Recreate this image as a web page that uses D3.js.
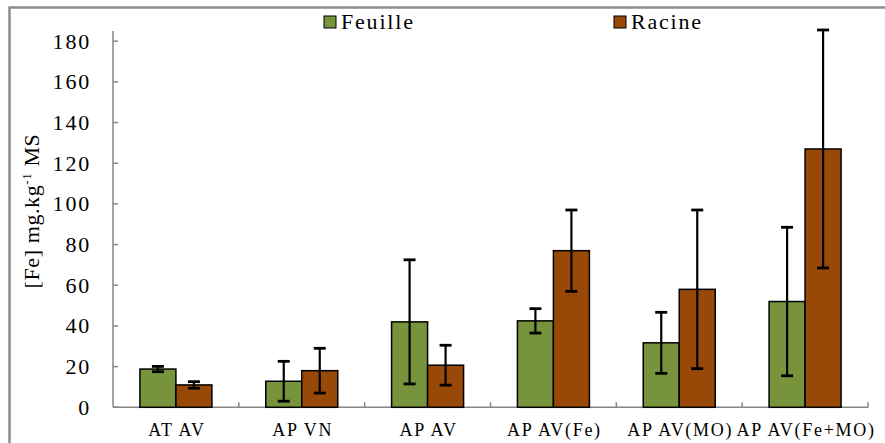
<!DOCTYPE html>
<html><head><meta charset="utf-8">
<script src="https://cdn.jsdelivr.net/npm/d3@7"></script>
<style>body{margin:0;background:#fff}svg{display:block}</style>
</head><body><svg id="c" width="885" height="443"></svg>
<script>
const categories = ["AT AV","AP VN","AP AV","AP AV(Fe)","AP AV(MO)","AP AV(Fe+MO)"];
const seriesNames = ["Feuille","Racine"];
const feuille = [18.8, 12.8, 42.0, 42.5, 31.7, 52.0];
const feuilleErr = [1.3, 9.8, 30.5, 6.0, 15.0, 36.5];
const racine = [11.0, 18.0, 20.7, 77.0, 58.0, 127.0];
const racineErr = [1.6, 11.0, 9.8, 20.0, 39.0, 58.5];
const yTicks = [0,20,40,60,80,100,120,140,160,180];
const colors = ["#77933C","#984807"];
const FONT = '"Liberation Serif"';

const svg = d3.select("#c");
// frame
svg.append("path").attr("d","M9.5,443 V7.5 H885").attr("fill","none").attr("stroke","#8c8c8c").attr("stroke-width",2.5);

const x0 = d3.scaleBand().domain(categories).range([113,868]);
const x1 = d3.scaleBand().domain(seriesNames).range([x0.bandwidth()/2-36, x0.bandwidth()/2+36]);
const y = d3.scaleLinear().domain([0,185]).range([407.3,31]);

// axes
const ax = svg.append("g").attr("stroke","#868686").attr("stroke-width",1.5);
ax.append("line").attr("x1",113).attr("x2",113).attr("y1",y(185)).attr("y2",y(0));
ax.append("line").attr("x1",113).attr("x2",868).attr("y1",y(0)).attr("y2",y(0));
ax.selectAll(".yt").data(yTicks).enter().append("line")
  .attr("x1",113).attr("x2",118).attr("y1",d=>y(d)).attr("y2",d=>y(d));
const bounds = categories.map(c=>x0(c)).concat([x0(categories[categories.length-1])+x0.bandwidth()]);
ax.selectAll(".xt").data(bounds.slice(1)).enter().append("line")
  .attr("x1",d=>d).attr("x2",d=>d).attr("y1",y(0)).attr("y2",y(0)-5);

svg.selectAll(".ytl").data(yTicks).enter().append("text")
  .attr("x",91).attr("y",d=>y(d)+7.5).attr("text-anchor","end").style("font-family",FONT)
  .attr("font-size",22).attr("letter-spacing",1.8).attr("fill","#000").text(d=>d);

svg.selectAll(".xtl").data(categories).enter().append("text")
  .attr("x",d=>x0(d)+x0.bandwidth()/2+1).attr("y",436).attr("text-anchor","middle").style("font-family",FONT)
  .attr("font-size",18).attr("letter-spacing",1.7).attr("fill","#000").text(d=>d);

// y title
const yt = svg.append("text").attr("transform","translate(39,211) rotate(-90)").style("font-family",FONT)
  .attr("text-anchor","middle").attr("font-size",22).attr("letter-spacing",0.6).attr("fill","#000");
yt.append("tspan").text("[Fe] mg.kg");
yt.append("tspan").attr("dy",-8).attr("font-size",13).text("-1");
yt.append("tspan").attr("dy",8).text(" MS");

// bars
const data = [];
categories.forEach((c,i)=>{
  data.push({c,s:"Feuille",v:feuille[i],e:feuilleErr[i],k:0});
  data.push({c,s:"Racine",v:racine[i],e:racineErr[i],k:1});
});
svg.selectAll(".bar").data(data).enter().append("rect")
  .attr("x",d=>x0(d.c)+x1(d.s)).attr("width",x1.bandwidth())
  .attr("y",d=>y(d.v)).attr("height",d=>y(0)-y(d.v))
  .attr("fill",d=>colors[d.k]).attr("stroke","#000").attr("stroke-width",1.5);

// error bars
const eg = svg.append("g").attr("stroke","#000");
data.forEach(d=>{
  const cx = x0(d.c)+x1(d.s)+x1.bandwidth()/2;
  eg.append("line").attr("x1",cx).attr("x2",cx).attr("y1",y(d.v+d.e)).attr("y2",y(d.v-d.e)).attr("stroke-width",2.2);
  [d.v+d.e,d.v-d.e].forEach(v=>eg.append("line").attr("x1",cx-6).attr("x2",cx+6).attr("y1",y(v)).attr("y2",y(v)).attr("stroke-width",2.8));
});

// legend
const lg = svg.selectAll(".lg").data(seriesNames).enter().append("g")
  .attr("transform",(d,i)=>`translate(${[324,614][i]},16)`);
lg.append("rect").attr("width",12).attr("height",12).attr("fill",(d,i)=>colors[i]).attr("stroke","#000").attr("stroke-width",1);
lg.append("text").attr("x",17).attr("y",13).style("font-family",FONT).attr("font-size",22).attr("letter-spacing",1.8).attr("fill","#000").text(d=>d);
</script></body></html>
